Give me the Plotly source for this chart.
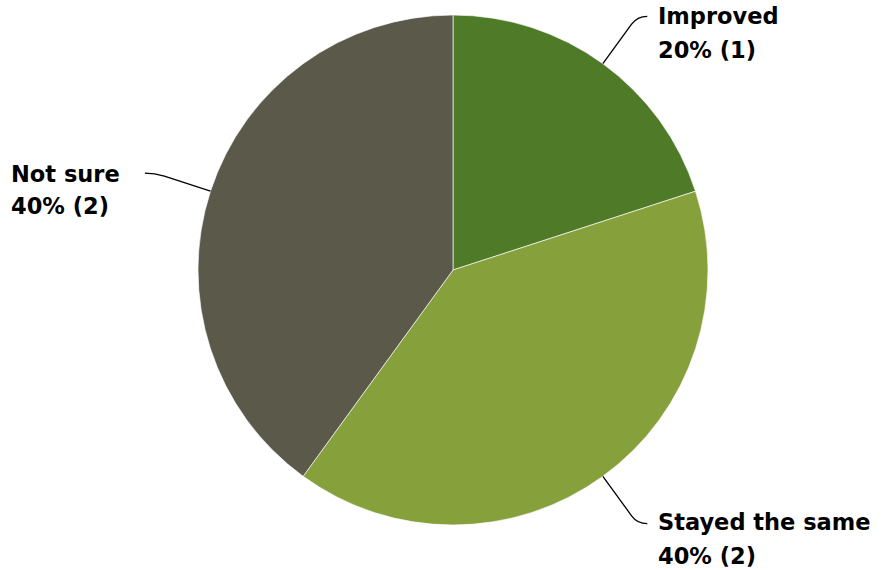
import math
import plotly.graph_objects as go

categories = ["Improved", "Stayed the same", "Not sure"]
counts = [1, 2, 2]
colors = ["#4F7A28", "#86A03C", "#5B5A4A"]

W, H = 891, 570
cx, cy, R = 453, 270, 255
font_size = 22.5
line_gap = 33

fig = go.Figure(go.Pie(
    labels=categories, values=counts, sort=False, direction="clockwise", rotation=0,
    marker=dict(colors=colors, line=dict(color="rgba(255,255,255,0.8)", width=0.8)),
    textinfo="none", hoverinfo="label+percent+value", showlegend=False,
    domain=dict(x=[(cx - R) / W, (cx + R) / W], y=[(H - cy - R) / H, (H - cy + R) / H]),
))

def px(x):
    return x / W

def py(y):
    return 1 - y / H

total = sum(counts)
cum = 0
shapes = []
annotations = []
for cat, v in zip(categories, counts):
    mid = (cum + v / 2) / total * 2 * math.pi
    cum += v
    dx, dy = math.sin(mid), -math.cos(mid)
    x0, y0 = cx + R * dx, cy + R * dy
    ext = 58.5
    qx, qy = x0 + dx * (ext - 10), y0 + dy * (ext - 10)
    x1, y1 = x0 + dx * ext, y0 + dy * ext
    side = 1 if dx >= 0 else -1
    x2, y2 = x1 + side * 10, y1
    path = (f"M {px(x0)},{py(y0)} L {px(qx)},{py(qy)} "
            f"Q {px(x1)},{py(y1)} {px(x2)},{py(y2)}")
    shapes.append(dict(type="path", path=path, xref="paper", yref="paper",
                       line=dict(color="black", width=1.3)))
    pct = round(v / total * 100)
    lines = [cat, f"{pct}% ({v})"]
    ax = x2 + 9 if side > 0 else 9
    offs = [0, line_gap + 1] if side > 0 else [1, line_gap]
    for i, t in enumerate(lines):
        annotations.append(dict(
            text=f"<b>{t}</b>", x=px(ax), y=py(y2 + offs[i] - (2 if side > 0 and y2 > cy else 0)),
            xref="paper", yref="paper",
            xanchor="left", yanchor="middle", align="left", showarrow=False,
            font=dict(family="DejaVu Sans", size=font_size, color="black"),
        ))

fig.update_layout(
    width=W, height=H, margin=dict(l=0, r=0, t=0, b=0),
    paper_bgcolor="white", plot_bgcolor="white",
    shapes=shapes, annotations=annotations,
)

fig.write_html("out.html")
